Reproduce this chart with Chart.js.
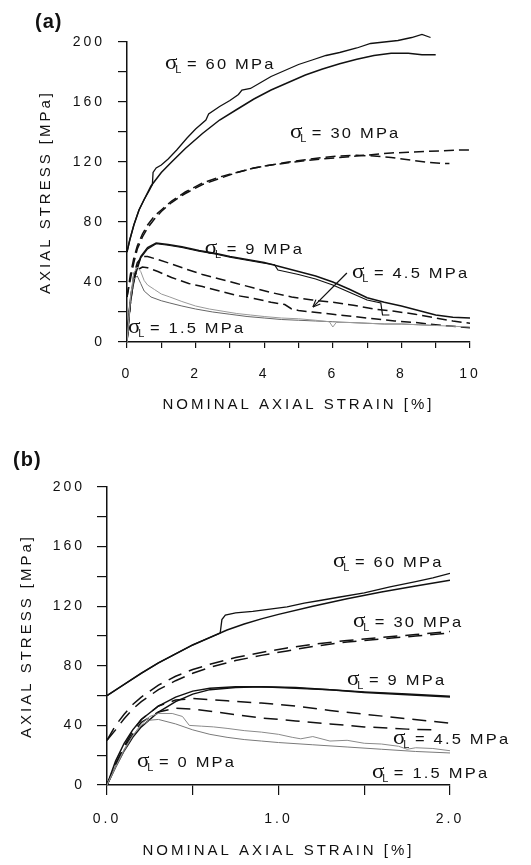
<!DOCTYPE html>
<html>
<head>
<meta charset="utf-8">
<script src="https://cdn.jsdelivr.net/npm/chart.js@4.4.0/dist/chart.umd.min.js"></script>
<style>
  body { margin: 0; background: #fff; width: 531px; height: 865px; position: relative; overflow: hidden; }
  .panel { position: absolute; left: 0; width: 531px; }
  #wrapA { top: 0; height: 432px; }
  #wrapB { top: 432px; height: 433px; }
</style>
</head>
<body>
<div class="panel" id="wrapA"><canvas id="chartA" width="531" height="432"></canvas></div>
<div class="panel" id="wrapB"><canvas id="chartB" width="531" height="433"></canvas></div>
<script>
// ---------- panel (a): strain 0-10 % ----------
const a60ExpX = [0, 0.08, 0.2, 0.35, 0.5, 0.65, 0.74, 0.76, 0.85, 1.0, 1.2, 1.45, 1.75, 2.0, 2.3, 2.38, 2.7, 3.0, 3.25, 3.35, 3.6, 3.9, 4.2, 4.6, 5.0, 5.4, 5.8, 6.2, 6.7, 7.1, 7.5, 7.9, 8.3, 8.6, 8.85];
const a60ExpY = [60, 68, 78, 88, 95, 101, 105, 113, 116, 118, 122, 128, 136, 142, 148, 152, 157, 161, 165, 168, 169, 173, 177, 181, 185, 188, 191, 193, 196, 199, 200, 201, 203, 205, 203];
const a60ModX = [0, 0.08, 0.2, 0.35, 0.5, 0.7, 1.0, 1.3, 1.7, 2.2, 2.7, 3.2, 3.7, 4.2, 4.7, 5.2, 5.7, 6.2, 6.7, 7.2, 7.7, 8.2, 8.6, 9.0];
const a60ModY = [60, 68, 78, 88, 95, 104, 113, 120, 129, 139, 148, 155, 162, 168, 173, 178, 182, 185.5, 188.5, 191, 192.5, 192.5, 191.5, 191.5];

const a30AX = [0, 0.1, 0.2, 0.3, 0.45, 0.6, 0.8, 1.0, 1.3, 1.7, 2.2, 2.7, 3.2, 3.7, 4.2, 4.7, 5.2, 5.7, 6.2, 6.7, 7.2, 7.7, 8.2, 8.7, 9.2, 9.7, 10];
const a30AY = [30, 45, 56, 64, 72, 78, 84, 88, 94, 100, 106, 110, 113, 116, 118, 119.5, 121, 122, 123, 124, 125, 126, 126.5, 127, 127.5, 128, 128];
const a30BX = [0, 0.1, 0.2, 0.3, 0.45, 0.6, 0.8, 1.0, 1.3, 1.7, 2.2, 2.7, 3.2, 3.7, 4.2, 4.7, 5.2, 5.7, 6.2, 6.7, 7.2, 7.7, 8.2, 8.7, 9.2, 9.4];
const a30BY = [30, 42, 53, 62, 70, 76, 82, 87, 93, 99, 105, 109, 113, 116, 118, 120, 121.5, 123, 124, 124.5, 124, 123, 121.5, 120, 119, 119];

const a9ModX = [0, 0.05, 0.1, 0.15, 0.25, 0.4, 0.6, 0.85, 1.2, 1.6, 2.1, 2.6, 3.0, 3.5, 4.0, 4.5, 5.0, 5.5, 6.0, 6.5, 7.0, 7.5, 8.0, 8.5, 9.0, 9.5, 10];
const a9ModY = [0, 18, 28, 36, 47, 57, 63, 66, 65, 63.5, 61, 59, 57, 55, 53, 50, 47, 44, 40, 35, 29.5, 26.5, 24, 21, 18, 16.5, 16];
const a9ExpX = [0, 0.05, 0.1, 0.15, 0.25, 0.4, 0.6, 0.85, 1.2, 1.6, 2.1, 2.6, 3.0, 3.5, 4.0, 4.3, 4.4, 4.5, 5.0, 5.5, 6.0, 6.3, 6.6, 7.0, 7.4, 7.45, 7.65];
const a9ExpY = [0, 14, 25, 34, 45, 56, 62, 65.5, 64.5, 63, 60.5, 58.5, 56.5, 54.5, 52.5, 51.5, 48, 47.5, 45, 42, 38, 35, 32, 28, 26, 18, 18];

const a45ModX = [0, 0.05, 0.1, 0.2, 0.3, 0.45, 0.6, 0.9, 1.3, 1.8, 2.2, 2.7, 3.2, 3.7, 4.2, 4.8, 5.4, 6.0, 6.6, 7.2, 7.8, 8.4, 9.0, 9.5, 10];
const a45ModY = [0, 15, 28, 45, 53, 57, 57, 55, 52, 48, 45, 42, 39, 36, 33, 30, 28, 26.5, 24.5, 22, 20.5, 18.5, 16, 14, 12.5];
const a45ExpX = [0, 0.05, 0.1, 0.2, 0.3, 0.45, 0.6, 0.9, 1.3, 1.8, 2.2, 2.7, 3.2, 3.7, 4.2, 4.6, 4.8, 5.0, 5.4, 6.0, 6.6, 7.2, 7.8, 8.4, 9.0, 9.5, 10];
const a45ExpY = [0, 14, 26, 42, 48, 50, 49.5, 47, 43, 39, 37, 34, 31, 29, 26.5, 25, 22, 21, 20, 18.5, 17, 15.5, 14, 13, 11.5, 10.5, 9.5];

const a15UpX = [0, 0.05, 0.1, 0.2, 0.3, 0.4, 0.5, 0.6, 0.8, 1.0, 1.25, 1.6, 2.0, 2.4, 2.8, 3.2, 3.6, 4.0, 4.5, 5.0, 5.5, 5.9, 6.0, 6.1, 6.5, 7.0, 7.5, 8.0, 8.5, 9.0, 9.5, 10];
const a15UpY = [0, 15, 30, 46, 50, 47, 41, 38, 35, 32, 30, 27, 24, 22, 20.5, 19, 18, 17, 16, 15.5, 14.5, 13.5, 10, 13, 13, 12.5, 12, 12, 11.5, 11, 10.5, 10];
const a15LoX = [0, 0.05, 0.1, 0.2, 0.3, 0.4, 0.5, 0.7, 1.0, 1.25, 1.6, 2.0, 2.5, 3.0, 3.5, 4.0, 4.5, 5.0, 5.5, 6.0, 6.5, 7.0, 7.5, 8.0, 8.5, 9.0];
const a15LoY = [0, 14, 28, 42, 44, 39, 34, 30, 27.5, 26, 24, 22, 20, 18.5, 17, 16, 15, 14.5, 14, 13.5, 13, 12.5, 12, 12, 11.5, 11];

// ---------- panel (b): strain 0-2 % ----------
const b60ExpX = [0, 0.1, 0.2, 0.3, 0.4, 0.5, 0.6, 0.66, 0.67, 0.69, 0.75, 0.85, 0.95, 1.05, 1.15, 1.25, 1.35, 1.5, 1.65, 1.8, 1.9, 2.0];
const b60ExpY = [60, 67.5, 75, 82, 88, 94, 99, 102, 111, 114, 115.5, 116.5, 118, 119.5, 122, 124, 126, 129, 133, 136.5, 139, 142];
const b60ModX = [0, 0.1, 0.2, 0.3, 0.4, 0.5, 0.6, 0.7, 0.8, 0.9, 1.0, 1.2, 1.4, 1.6, 1.8, 2.0];
const b60ModY = [60, 67.5, 75, 82, 88, 94, 99, 104, 108, 111.5, 114.5, 120, 125, 129.5, 133.5, 137.5];

const b30X = [0, 0.05, 0.1, 0.15, 0.2, 0.3, 0.4, 0.5, 0.6, 0.75, 0.9, 1.05, 1.2, 1.4, 1.6, 1.8, 2.0];
const b30AY = [30, 40, 47.5, 54, 59, 67, 73, 77.5, 81, 85.5, 89, 92, 94.5, 97, 99, 101, 103];
const b30BY = [30, 37, 44.5, 51, 56, 64, 70, 75, 79, 83.5, 87, 90, 93, 96, 98, 100, 102];

const b9X = [0, 0.05, 0.1, 0.15, 0.2, 0.3, 0.4, 0.5, 0.6, 0.75, 0.9, 1.1, 1.3, 1.5, 1.75, 2.0];
const b9AY = [0, 16, 28, 37, 44, 53, 59, 63, 65, 66, 66, 65, 64, 62.5, 61, 59.5];
const b9BY = [0, 12, 23, 32, 39, 49, 56, 61, 64, 65.5, 66, 65.5, 64, 62, 60.5, 59];

const b45AX = [0, 0.05, 0.1, 0.15, 0.2, 0.3, 0.4, 0.5, 0.7, 0.9, 1.1, 1.3, 1.5, 1.75, 2.0];
const b45AY = [0, 14, 26, 36, 44, 53, 57, 58, 56.5, 55, 53, 50, 47.5, 44.5, 41.5];
const b45BX = [0, 0.05, 0.1, 0.15, 0.2, 0.3, 0.4, 0.5, 0.7, 0.9, 1.1, 1.3, 1.5, 1.75, 1.92];
const b45BY = [0, 13, 25, 34, 42, 49, 51.5, 51, 48, 45, 43, 41, 39, 37.5, 37];

const bGreyUpX = [0, 0.05, 0.1, 0.15, 0.2, 0.25, 0.3, 0.38, 0.44, 0.48, 0.55, 0.62, 0.7, 0.8, 0.9, 1.0, 1.08, 1.13, 1.2, 1.3, 1.4, 1.5, 1.6, 1.7, 1.75, 1.8, 1.9, 2.0];
const bGreyUpY = [0, 12, 24, 33, 41, 46, 48, 48, 46, 40, 39.5, 39, 38, 36.5, 35.5, 34, 32, 31, 32.5, 29.5, 30, 28, 27.5, 26, 24, 25, 24.5, 23];
const bGreyLoX = [0, 0.05, 0.1, 0.15, 0.2, 0.25, 0.3, 0.4, 0.5, 0.6, 0.7, 0.8, 0.9, 1.0, 1.2, 1.4, 1.6, 1.8, 2.0];
const bGreyLoY = [0, 12, 23, 33, 40, 43.5, 44, 41, 37, 34, 32, 30.5, 29.5, 28.5, 27, 25.5, 24, 22.5, 21.5];

// curve labels, anchored in data units (left edge, baseline)
const labelsA = [
  {text: '60 MPa', x: 1.11, y: 182},
  {text: '30 MPa', x: 4.75, y: 136},
  {text: '9 MPa', x: 2.27, y: 59},
  {text: '4.5 MPa', x: 6.56, y: 42.5},
  {text: '1.5 MPa', x: 0.03, y: 6}
];
const labelsB = [
  {text: '60 MPa', x: 1.318, y: 146.5},
  {text: '30 MPa', x: 1.434, y: 106},
  {text: '9 MPa', x: 1.40, y: 67},
  {text: '4.5 MPa', x: 1.668, y: 27.5},
  {text: '1.5 MPa', x: 1.545, y: 4.7},
  {text: '0 MPa', x: 0.175, y: 12}
];
const arrowA = {from: [6.41, 46], to: [5.42, 23.3]};

Chart.defaults.font.family = '"Liberation Sans", Arial, sans-serif';
Chart.defaults.color = '#111';

const INK = '#111';
const dashA = [10, 5];
const dashB = [14, 8];

function pts(xs, ys) {
  return xs.map((x, i) => ({x: x, y: ys[i]}));
}

function curve(xs, ys, extra) {
  return Object.assign({
    data: pts(xs, ys),
    borderColor: INK,
    borderWidth: 1.5,
    pointRadius: 0,
    fill: false,
    tension: 0
  }, extra || {});
}

// wide, spaced lettering used throughout the figure
const spacing = {
  id: 'spacing',
  beforeLayout(chart) { chart.ctx.letterSpacing = '3px'; },
  beforeDraw(chart) { chart.ctx.letterSpacing = '3px'; }
};

const sigmaLabels = {
  id: 'sigmaLabels',
  afterDatasetsDraw(chart, args, opts) {
    const ctx = chart.ctx;
    const xs = chart.scales.x, ys = chart.scales.y;
    ctx.save();
    ctx.fillStyle = INK;
    ctx.strokeStyle = INK;
    ctx.textAlign = 'left';
    ctx.textBaseline = 'alphabetic';

    opts.items.forEach(item => {
      const px = xs.getPixelForValue(item.x);
      const py = ys.getPixelForValue(item.y);
      ctx.save();
      ctx.translate(px, py);
      ctx.scale(1.1, 1);
      ctx.letterSpacing = '0px';
      ctx.font = '21px "Liberation Serif"';
      ctx.fillText('σ', 0, 0);
      let w = ctx.measureText('σ').width;
      ctx.font = '10px "Liberation Sans"';
      ctx.fillText('L', w - 2, 4);
      w += ctx.measureText('L').width + 3;
      ctx.font = '15px "Liberation Sans"';
      ctx.letterSpacing = '2px';
      ctx.fillText('= ' + item.text, w, 0);
      ctx.restore();
    });

    if (opts.arrow) {
      const x0 = xs.getPixelForValue(opts.arrow.from[0]), y0 = ys.getPixelForValue(opts.arrow.from[1]);
      const x1 = xs.getPixelForValue(opts.arrow.to[0]), y1 = ys.getPixelForValue(opts.arrow.to[1]);
      const ang = Math.atan2(y1 - y0, x1 - x0);
      ctx.lineWidth = 1.2;
      ctx.beginPath();
      ctx.moveTo(x0, y0);
      ctx.lineTo(x1, y1);
      ctx.stroke();
      ctx.beginPath();
      ctx.moveTo(x1, y1);
      ctx.lineTo(x1 - 8 * Math.cos(ang - 0.4), y1 - 8 * Math.sin(ang - 0.4));
      ctx.moveTo(x1, y1);
      ctx.lineTo(x1 - 8 * Math.cos(ang + 0.4), y1 - 8 * Math.sin(ang + 0.4));
      ctx.stroke();
    }

    ctx.letterSpacing = '1px';
    ctx.font = 'bold 20px "Liberation Sans"';
    ctx.fillText(opts.tag.text, opts.tag.x, opts.tag.y);
    ctx.restore();
  }
};

function scales(o) {
  return {
    x: {
      type: 'linear',
      min: 0, max: o.xMax,
      afterFit: s => { s.height = o.xHeight; },
      border: {color: INK, width: 1.5},
      grid: {display: true, drawOnChartArea: false, drawTicks: true, tickLength: o.xTick, color: INK, lineWidth: 1.2},
      ticks: {stepSize: o.xStep, autoSkip: false, maxRotation: 0, padding: o.xTickPad,
              font: {size: 14}, color: INK, callback: o.xFmt},
      title: {display: true, text: 'NOMINAL AXIAL STRAIN [%]', color: INK,
              font: {size: 15}, padding: {top: 0, bottom: o.xTitlePad}}
    },
    y: {
      type: 'linear',
      min: 0, max: 200,
      afterFit: s => { s.width = o.yWidth; },
      border: {color: INK, width: 1.5},
      grid: {display: true, drawOnChartArea: false, drawTicks: true, tickLength: o.yTick, color: INK, lineWidth: 1.2},
      ticks: {stepSize: 20, autoSkip: false, padding: o.yTickPad, font: {size: 14}, color: INK,
              callback: v => (v % 40 === 0 ? v : '')},
      title: {display: true, text: 'AXIAL STRESS [MPa]', color: INK,
              font: {size: 15}, padding: {top: o.yTitlePad, bottom: 0}}
    }
  };
}

new Chart(document.getElementById('chartA').getContext('2d'), {
  type: 'line',
  data: {
    datasets: [
      curve(a15UpX, a15UpY, {borderColor: '#9a9a9a', borderWidth: 1}),
      curve(a15LoX, a15LoY, {borderColor: '#666', borderWidth: 1}),
      curve(a45ModX, a45ModY, {borderDash: dashA}),
      curve(a45ExpX, a45ExpY, {borderDash: dashA}),
      curve(a9ModX, a9ModY),
      curve(a9ExpX, a9ExpY, {borderWidth: 1.2}),
      curve(a30AX, a30AY, {borderDash: dashA}),
      curve(a30BX, a30BY, {borderDash: dashA}),
      curve(a60ModX, a60ModY),
      // the measured 60 MPa curve peaks just above the 200 MPa axis limit
      curve(a60ExpX, a60ExpY, {borderWidth: 1.3, clip: false})
    ]
  },
  options: {
    responsive: false,
    animation: false,
    layout: {padding: {top: 42, right: 61, left: 0, bottom: 0}},
    plugins: {
      legend: {display: false},
      tooltip: {enabled: false},
      sigmaLabels: {items: labelsA, arrow: arrowA, tag: {text: '(a)', x: 35, y: 28}}
    },
    scales: scales({
      xMax: 10, xStep: 1, xTick: 6, xTickPad: 18, xHeight: 90, xTitlePad: 18,
      xFmt: v => (v % 2 === 0 ? v : ''),
      yWidth: 127, yTick: 9, yTickPad: 13, yTitlePad: 37
    })
  },
  plugins: [spacing, sigmaLabels]
});

new Chart(document.getElementById('chartB').getContext('2d'), {
  type: 'line',
  data: {
    datasets: [
      curve(bGreyUpX, bGreyUpY, {borderColor: '#8a8a8a', borderWidth: 1}),
      curve(bGreyLoX, bGreyLoY, {borderColor: '#7a7a7a', borderWidth: 1}),
      curve(b45AX, b45AY, {borderDash: dashB}),
      curve(b45BX, b45BY, {borderDash: dashB}),
      curve(b9X, b9AY),
      curve(b9X, b9BY),
      curve(b30X, b30AY, {borderDash: dashB}),
      curve(b30X, b30BY, {borderDash: dashB}),
      curve(b60ModX, b60ModY),
      curve(b60ExpX, b60ExpY, {borderWidth: 1.3})
    ]
  },
  options: {
    responsive: false,
    animation: false,
    layout: {padding: {top: 55, right: 81, left: 0, bottom: 0}},
    plugins: {
      legend: {display: false},
      tooltip: {enabled: false},
      sigmaLabels: {items: labelsB, tag: {text: '(b)', x: 13, y: 34}}
    },
    scales: scales({
      xMax: 2, xStep: 0.5, xTick: 10, xTickPad: 16, xHeight: 80, xTitlePad: 5,
      xFmt: v => (Number.isInteger(v) ? v.toFixed(1) : ''),
      yWidth: 107, yTick: 10, yTickPad: 12, yTitlePad: 18
    })
  },
  plugins: [spacing, sigmaLabels]
});
</script>
</body>
</html>
